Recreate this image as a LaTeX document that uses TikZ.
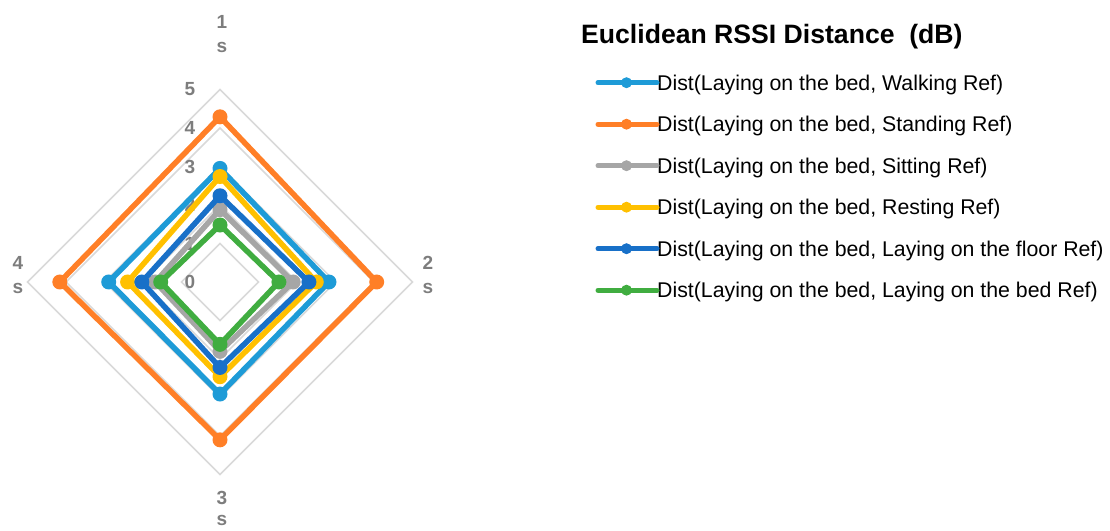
\documentclass[tikz,border=0pt]{standalone}
\usepackage{fontspec}
\setmainfont{Liberation Sans}
\usetikzlibrary{positioning}
\definecolor{walkblue}{RGB}{30,155,215}
\definecolor{standorange}{RGB}{255,127,39}
\definecolor{sitgray}{RGB}{166,166,166}
\definecolor{restyellow}{RGB}{255,192,0}
\definecolor{floorblue}{RGB}{24,112,200}
\definecolor{bedgreen}{RGB}{64,173,64}
\definecolor{gridgray}{RGB}{217,217,217}
\definecolor{labelgray}{RGB}{125,125,125}
\tikzset{
  grid line/.style={draw=gridgray, line width=1.5pt},
  series line/.style={line width=5.5pt, line join=round},
  legend line/.style={line width=5pt, line cap=round},
  tick label/.style={text=labelgray, font=\fontsize{19}{22}\selectfont\bfseries, inner sep=0pt},
  axis label/.style={text=labelgray, align=center, inner sep=0pt,
    font=\fontsize{19}{24}\selectfont\bfseries},
  legend text/.style={anchor=base west, inner sep=0pt, font=\fontsize{21.3}{24}\selectfont}
}

\begin{document}
\begin{tikzpicture}[x=1pt, y=1pt]
  \useasboundingbox (0,0) rectangle (1110,530);

  % radar: one unit = 38.5pt, centre of the chart
  \begin{scope}[shift={(220,248)}, x=38.5pt, y=38.5pt]
    \foreach \v in {1,...,5}
      \draw[grid line] (90:\v) -- (0:\v) -- (270:\v) -- (180:\v) -- cycle;
    \foreach \v in {0,...,5}
      \node[tick label] (tick\v) at (-0.78,\v) {\v};

    % series: 1 s (top), 2 s (right), 3 s (bottom), 4 s (left)
    \foreach \col/\a/\b/\c/\d in {
        walkblue/2.95/2.83/2.91/2.89,
        standorange/4.29/4.07/4.10/4.16,
        sitgray/1.88/1.90/1.80/1.68,
        restyellow/2.74/2.50/2.46/2.40,
        floorblue/2.24/2.31/2.22/2.03,
        bedgreen/1.48/1.53/1.62/1.54} {
      \draw[series line, draw=\col] (90:\a) -- (0:\b) -- (270:\c) -- (180:\d) -- cycle;
      \fill[\col] (90:\a) circle (7.5pt) (0:\b) circle (7.5pt)
                  (270:\c) circle (7.5pt) (180:\d) circle (7.5pt);
    }
  \end{scope}

  % axis names
  \node[axis label] (ax1) at (222,496) {1\\s};
  \node[axis label] (ax2) at (428,255) {2\\s};
  \node[axis label, font=\fontsize{19}{21}\selectfont\bfseries] (ax3) at (222,22) {3\\s};
  \node[axis label] (ax4) at (18,255) {4\\s};

  % legend
  \node[anchor=base west, inner sep=0pt, font=\fontsize{26.6}{30}\selectfont\bfseries]
    (title) at (581,486) {Euclidean RSSI Distance~~(dB)};
  \foreach \col/\txt [count=\i] in {
      walkblue/{Dist(Laying on the bed, Walking Ref)},
      standorange/{Dist(Laying on the bed, Standing Ref)},
      sitgray/{Dist(Laying on the bed, Sitting Ref)},
      restyellow/{Dist(Laying on the bed, Resting Ref)},
      floorblue/{Dist(Laying on the bed, Laying on the floor Ref)},
      bedgreen/{Dist(Laying on the bed, Laying on the bed Ref)}} {
    \coordinate (key\i) at (598,488.8-41.5*\i);
    \node[legend text] (entry\i) at (657,481.2-41.5*\i) {\txt};
    \draw[legend line, \col] (key\i) -- (key\i -| entry\i.west);
    \fill[\col] ([xshift=28.5pt]key\i) circle (5.5pt);
  }
\end{tikzpicture}
\end{document}
